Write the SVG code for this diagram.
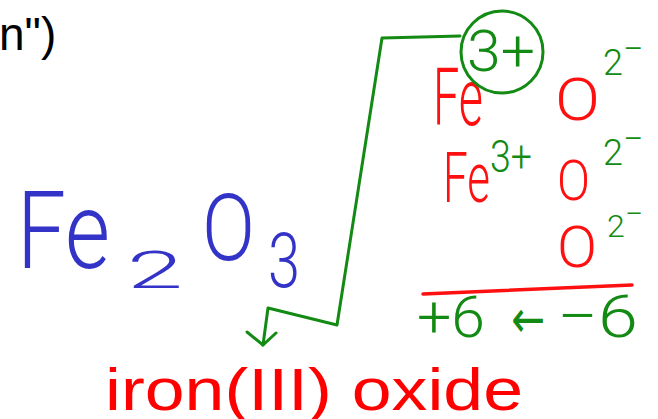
<svg xmlns="http://www.w3.org/2000/svg" width="658" height="419" viewBox="0 0 658 419">
<style>
.hw{font-family:Roboto,"Liberation Sans",sans-serif;font-weight:300}
.b{fill:#3333c8}
.r{fill:#ff1010}
.g{fill:#138a13}
.ln{fill:none;stroke:#138a13;stroke-width:3;stroke-linejoin:round;stroke-linecap:round}
</style>
<rect width="658" height="419" fill="#ffffff"/>
<text id="top-left" x="-1" y="50" font-family="Liberation Sans, sans-serif" font-size="46" fill="#000">n")</text>
<g id="formula">
<text class="hw b" x="17" y="268" font-size="108" textLength="93" lengthAdjust="spacingAndGlyphs">Fe</text>
<text class="hw b" x="127" y="288" font-size="52" textLength="56" lengthAdjust="spacingAndGlyphs">2</text>
<text class="hw b" x="202" y="260" font-size="92" textLength="53" lengthAdjust="spacingAndGlyphs">O</text>
<text class="hw b" x="268" y="287" font-size="76" textLength="32" lengthAdjust="spacingAndGlyphs">3</text>
</g>
<g id="ions">
<text class="hw r" x="433" y="125" font-size="80" textLength="50" lengthAdjust="spacingAndGlyphs">Fe</text>
<text class="hw r" x="555" y="120" font-size="59" textLength="45" lengthAdjust="spacingAndGlyphs">O</text>
<text class="hw g" x="603" y="75" font-size="36">2<tspan dy="-14">−</tspan></text>
<text class="hw r" x="443" y="202" font-size="70" textLength="47" lengthAdjust="spacingAndGlyphs">Fe</text>
<text class="hw g" x="490" y="172" font-size="44" textLength="42" lengthAdjust="spacingAndGlyphs">3+</text>
<text class="hw r" x="557" y="200" font-size="55" textLength="33" lengthAdjust="spacingAndGlyphs">O</text>
<text class="hw g" x="603" y="165" font-size="36">2<tspan dy="-14">−</tspan></text>
<text class="hw r" x="557" y="267" font-size="58" textLength="40" lengthAdjust="spacingAndGlyphs">O</text>
<text class="hw g" x="607" y="237" font-size="32">2<tspan dy="-12">−</tspan></text>
<line x1="423" y1="294" x2="632" y2="285" stroke="#ff1010" stroke-width="3.5" stroke-linecap="round"/>
<text class="hw g" x="417" y="337" font-size="58" textLength="68" lengthAdjust="spacingAndGlyphs">+6</text>
<text class="g" x="511" y="337" font-family="DejaVu Sans, sans-serif" font-size="52" textLength="34" lengthAdjust="spacingAndGlyphs">←</text>
<text class="hw g" x="557" y="337" font-size="60" textLength="81" lengthAdjust="spacingAndGlyphs">−6</text>
</g>
<g id="charge">
<circle cx="502" cy="52" r="41" fill="none" stroke="#138a13" stroke-width="3"/>
<text class="hw g" x="467" y="71" font-size="58" textLength="68" lengthAdjust="spacingAndGlyphs">3+</text>
</g>
<g id="connectors">
<polyline class="ln" points="460,36 382,38 337,325 268,308 263,345"/>
<polyline class="ln" points="247,332 263,345 276,333"/>
</g>
<g id="name">
<text x="105" y="410" font-family="Liberation Sans, sans-serif" font-size="60" fill="#ff0000" textLength="418" lengthAdjust="spacingAndGlyphs">iron(III) oxide</text>
</g>
</svg>
